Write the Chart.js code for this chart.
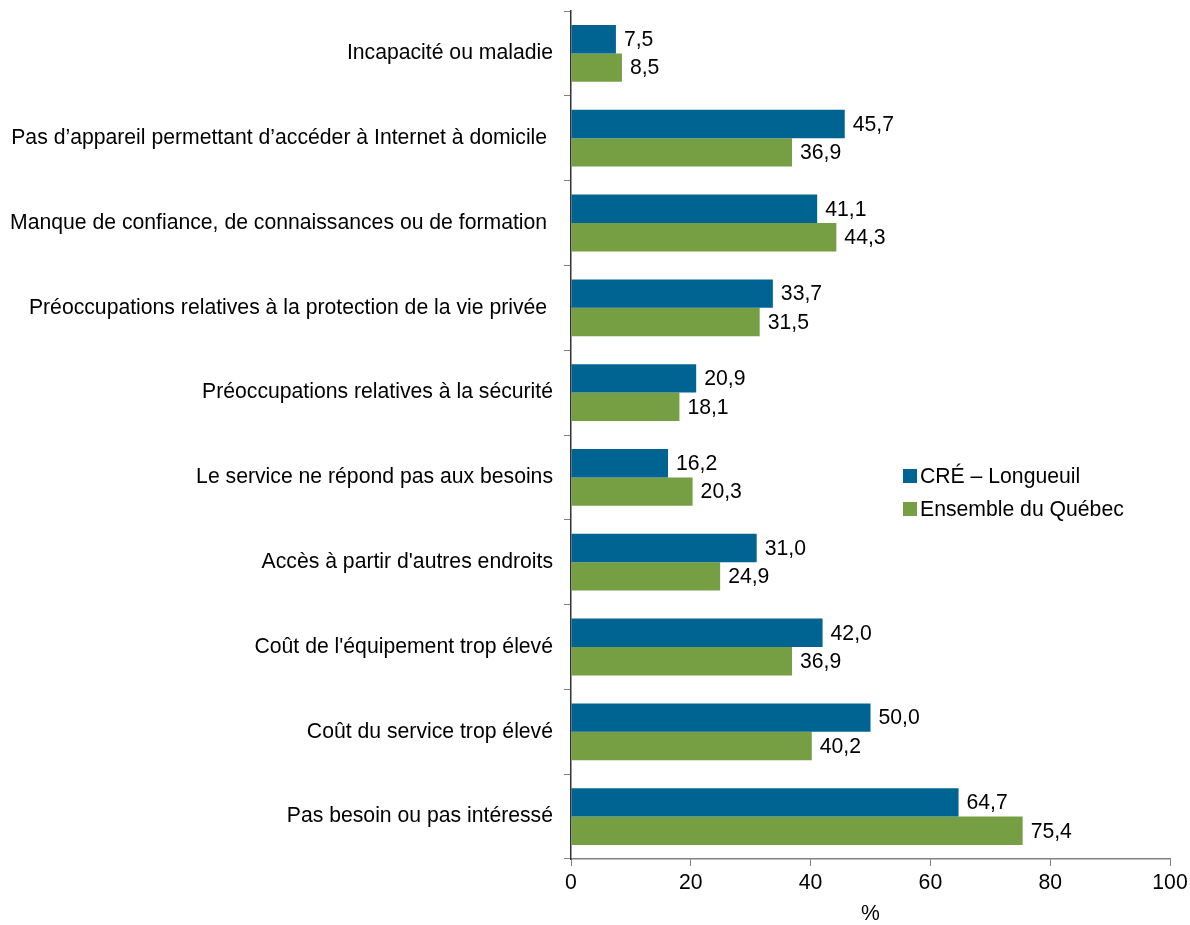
<!DOCTYPE html>
<html>
<head>
<meta charset="utf-8">
<script src="https://cdn.jsdelivr.net/npm/chart.js@4/dist/chart.umd.min.js"></script>
<style>
  html, body { margin: 0; padding: 0; background: #fff; }
  #wrap { width: 1190px; height: 925px; position: relative; }
</style>
</head>
<body>
<div id="wrap"><canvas id="c"></canvas></div>
<script>
const categories = [
  "Incapacité ou maladie",
  "Pas d’appareil permettant d’accéder à Internet à domicile ",
  "Manque de confiance, de connaissances ou de formation ",
  "Préoccupations relatives à la protection de la vie privée ",
  "Préoccupations relatives à la sécurité",
  "Le service ne répond pas aux besoins",
  "Accès à partir d'autres endroits",
  "Coût de l'équipement trop élevé",
  "Coût du service trop élevé",
  "Pas besoin ou pas intéressé"
];
const seriesNames = ["CRÉ – Longueuil", "Ensemble du Québec"];
const longueuil = [7.5, 45.7, 41.1, 33.7, 20.9, 16.2, 31.0, 42.0, 50.0, 64.7];
const quebec = [8.5, 36.9, 44.3, 31.5, 18.1, 20.3, 24.9, 36.9, 40.2, 75.4];
const xTicks = [0, 20, 40, 60, 80, 100];
const axisTitle = "%";

const FONT = "'Liberation Sans', Arial, sans-serif";
const FS = 21.2;
const BLUE = "#006492";
const GREEN = "#769E42";
const AXIS = "#808080";

const valueLabels = {
  id: 'valueLabels',
  afterDatasetsDraw(chart) {
    const ctx = chart.ctx;
    ctx.save();
    ctx.font = FS + "px " + FONT;
    ctx.fillStyle = "#000";
    ctx.textAlign = "left";
    ctx.textBaseline = "middle";
    chart.data.datasets.forEach((ds, di) => {
      const meta = chart.getDatasetMeta(di);
      meta.data.forEach((el, i) => {
        const v = ds.data[i];
        ctx.fillText(v.toFixed(1).replace('.', ','), el.x + 8, el.y + 1);
      });
    });
    ctx.restore();
  }
};

const customLegend = {
  id: 'customLegend',
  afterDraw(chart) {
    const ctx = chart.ctx;
    ctx.save();
    ctx.font = FS + "px " + FONT;
    ctx.textAlign = "left";
    ctx.textBaseline = "middle";
    const x0 = 903, y0 = 476, gap = 33, box = 14;
    chart.data.datasets.forEach((ds, i) => {
      const y = y0 + i * gap;
      ctx.fillStyle = ds.backgroundColor;
      ctx.fillRect(x0, y - box / 2, box, box);
      ctx.fillStyle = "#000";
      ctx.fillText(ds.label, x0 + box + 3, y + 1);
    });
    ctx.restore();
  }
};

new Chart(document.getElementById('c'), {
  type: 'bar',
  data: {
    labels: categories,
    datasets: [
      { label: seriesNames[0], data: longueuil, backgroundColor: BLUE, categoryPercentage: 0.67, barPercentage: 1.0 },
      { label: seriesNames[1], data: quebec, backgroundColor: GREEN, categoryPercentage: 0.67, barPercentage: 1.0 }
    ]
  },
  options: {
    indexAxis: 'y',
    responsive: true,
    maintainAspectRatio: false,
    animation: false,
    layout: { padding: { top: 11, right: 20, left: 0, bottom: 0 } },
    plugins: {
      legend: { display: false },
      tooltip: { enabled: false }
    },
    scales: {
      x: {
        min: 0, max: 100,
        afterBuildTicks(scale) { scale.ticks = xTicks.map(v => ({ value: v })); },
        afterFit(scale) { scale.height = 66; scale.paddingLeft = 0; scale.paddingRight = 0; },
        ticks: { font: { size: FS, family: FONT }, color: "#000", padding: 4 },
        grid: { drawOnChartArea: false, drawTicks: true, tickLength: 7, color: AXIS, lineWidth: 1 },
        border: { display: true, color: AXIS, width: 1.5 },
        title: { display: true, text: axisTitle, font: { size: FS, family: FONT, lineHeight: 1 }, color: "#000", padding: { top: 0, bottom: 0 } }
      },
      y: {
        afterFit(scale) { scale.width = 571; scale.paddingTop = 0; scale.paddingBottom = 0; },
        ticks: { font: { size: FS, family: FONT }, color: "#000", padding: 11, autoSkip: false },
        grid: { offset: true, drawOnChartArea: false, drawTicks: true, tickLength: 7, color: AXIS, lineWidth: 1 },
        border: { display: true, color: "#333", width: 1.5 }
      }
    }
  },
  plugins: [valueLabels, customLegend]
});
</script>
</body>
</html>
